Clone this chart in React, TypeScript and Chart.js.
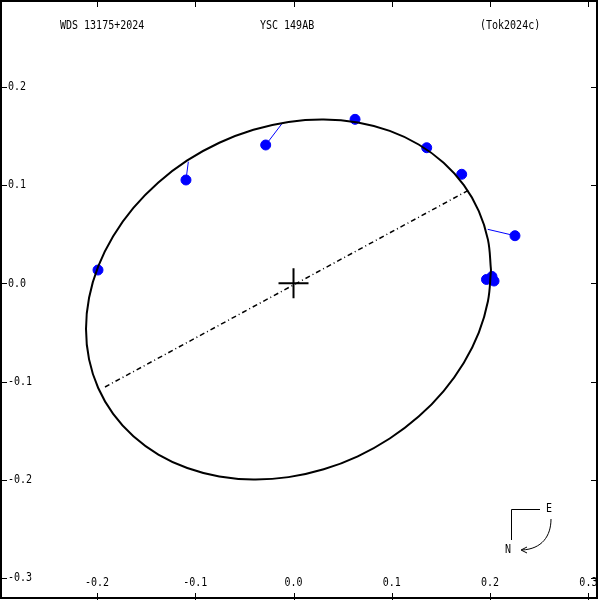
import React, { useEffect, useRef } from "react";
import { Chart, registerables } from "chart.js";

Chart.register(...registerables);

const X_MIN = -0.2986;
const X_MAX = 0.3118;
const Y_MIN = -0.3222;
const Y_MAX = 0.2882;

const xTicks = [-0.2, -0.1, 0.0, 0.1, 0.2, 0.3];
const yTicks = [0.2, 0.1, 0.0, -0.1, -0.2, -0.3];

const titleLeft = "WDS 13175+2024";
const titleCenter = "YSC 149AB";
const titleRight = "(Tok2024c)";

// Apparent orbit
const orbitX = [
  0.2009, 0.1978, 0.1885, 0.1733, 0.1527, 0.1273, 0.0979, 0.0654, 0.0307, -0.0051,
  -0.0408, -0.0755, -0.1081, -0.1375, -0.1629, -0.1835, -0.1987, -0.208, -0.2111, -0.208,
  -0.1987, -0.1835, -0.1629, -0.1375, -0.1081, -0.0755, -0.0408, -0.0051, 0.0307, 0.0654,
  0.0979, 0.1273, 0.1527, 0.1733, 0.1885, 0.1978, 0.2009,
];
const orbitY = [
  0.0135, -0.0183, -0.0501, -0.0808, -0.1096, -0.1356, -0.1579, -0.176, -0.1892, -0.1972,
  -0.1996, -0.1965, -0.1879, -0.1742, -0.1556, -0.1328, -0.1065, -0.0774, -0.0465, -0.0147,
  0.0171, 0.0479, 0.0767, 0.1026, 0.125, 0.143, 0.1562, 0.1642, 0.1667, 0.1636,
  0.155, 0.1412, 0.1226, 0.0998, 0.0735, 0.0444, 0.0135,
];

// Observed positions
const obsX = [-0.1989, -0.1094, -0.0283, 0.0626, 0.1355, 0.1711, 0.2253, 0.1963, 0.2019, 0.204];
const obsY = [0.0135, 0.1051, 0.1407, 0.1668, 0.1379, 0.1109, 0.0484, 0.0039, 0.0069, 0.0023];
// Computed positions on the orbit (ends of the residual lines)
const predX = [-0.1989, -0.107, -0.011, 0.0626, 0.1355, 0.1711, 0.1976, 0.1963, 0.2019, 0.204];
const predY = [0.0135, 0.1237, 0.1634, 0.1668, 0.1379, 0.1109, 0.0549, 0.0039, 0.0069, 0.0023];

// Line of nodes
const nodeX = [-0.1918, 0.1785];
const nodeY = [-0.1055, 0.0949];

const FONT = '10px "DejaVu Sans Mono"';

function drawText(ctx: CanvasRenderingContext2D, text: string, x: number, y: number, align: CanvasTextAlign) {
  ctx.save();
  ctx.textAlign = align;
  ctx.textBaseline = "middle";
  ctx.translate(x, y);
  ctx.scale(1, 1.25);
  ctx.fillText(text, 0, 0);
  ctx.restore();
}

const framePlugin = {
  id: "orbitFrame",
  afterDraw(chart: any) {
    const ctx = chart.ctx as CanvasRenderingContext2D;
    const xs = chart.scales.x;
    const ys = chart.scales.y;
    const W = chart.width;
    const H = chart.height;
    ctx.save();
    ctx.strokeStyle = "#000";
    ctx.fillStyle = "#000";
    ctx.lineWidth = 2;
    ctx.strokeRect(1, 1, W - 4, H - 3);

    ctx.lineWidth = 1;
    ctx.beginPath();
    xTicks.forEach((v) => {
      const p = Math.round(xs.getPixelForValue(v)) + 0.5;
      ctx.moveTo(p, 0);
      ctx.lineTo(p, 7);
      ctx.moveTo(p, H);
      ctx.lineTo(p, H - 7);
    });
    yTicks.forEach((v) => {
      const p = Math.round(ys.getPixelForValue(v)) + 0.5;
      ctx.moveTo(0, p);
      ctx.lineTo(7, p);
      ctx.moveTo(W - 2, p);
      ctx.lineTo(W - 9, p);
    });
    ctx.stroke();

    ctx.font = FONT;
    yTicks.forEach((v) => {
      drawText(ctx, v.toFixed(1), 8, ys.getPixelForValue(v), "left");
    });
    xTicks.forEach((v) => {
      drawText(ctx, v.toFixed(1), xs.getPixelForValue(v), H - 17, "center");
    });

    drawText(ctx, titleLeft, 60, 26, "left");
    drawText(ctx, titleCenter, 260, 26, "left");
    drawText(ctx, titleRight, 480, 26, "left");

    // compass
    ctx.beginPath();
    ctx.moveTo(511.5, 540);
    ctx.lineTo(511.5, 509.5);
    ctx.lineTo(540, 509.5);
    ctx.stroke();
    drawText(ctx, "E", 549, 509, "center");
    drawText(ctx, "N", 508, 550, "center");
    ctx.beginPath();
    ctx.moveTo(551, 519);
    ctx.bezierCurveTo(551, 536, 542, 549, 522, 550);
    ctx.stroke();
    ctx.beginPath();
    ctx.moveTo(527, 547);
    ctx.lineTo(521, 550);
    ctx.lineTo(527, 553);
    ctx.stroke();
    ctx.restore();
  },
};

export default function App() {
  const ref = useRef<HTMLCanvasElement | null>(null);
  useEffect(() => {
    if (!ref.current) return;
    const orbit = orbitX.map((x, i) => ({ x, y: orbitY[i] }));
    const obs = obsX.map((x, i) => ({ x, y: obsY[i] }));
    const residuals = obsX.map((x, i) => ({
      type: "scatter" as const,
      data: [
        { x, y: obsY[i] },
        { x: predX[i], y: predY[i] },
      ],
      showLine: true,
      borderColor: "#0000ff",
      borderWidth: 1,
      pointRadius: 0,
      order: 5,
    }));
    const chart = new Chart(ref.current, {
      type: "scatter",
      data: {
        datasets: [
          {
            data: [{ x: 0, y: 0 }],
            pointStyle: "cross",
            pointRadius: 15,
            borderColor: "#000",
            borderWidth: 2,
            order: 0,
          },
          {
            data: orbit,
            showLine: true,
            borderColor: "#000",
            borderWidth: 2,
            pointRadius: 0,
            tension: 0.4,
            order: 1,
          },
          {
            data: nodeX.map((x, i) => ({ x, y: nodeY[i] })),
            showLine: true,
            borderColor: "#000",
            borderWidth: 1.5,
            borderDash: [5, 3, 1, 3],
            pointRadius: 0,
            order: 2,
          },
          {
            data: obs,
            pointRadius: 5,
            pointStyle: "circle",
            backgroundColor: "#0000ff",
            borderColor: "#0000ff",
            borderWidth: 1,
            order: 3,
          },
          ...residuals,
        ] as any,
      },
      options: {
        animation: false,
        responsive: false,
        maintainAspectRatio: false,
        events: [],
        layout: { padding: 0, autoPadding: false },
        plugins: { legend: { display: false }, tooltip: { enabled: false } },
        scales: {
          x: { type: "linear", min: X_MIN, max: X_MAX, display: false },
          y: { type: "linear", min: Y_MIN, max: Y_MAX, display: false },
        },
      },
      plugins: [framePlugin],
    });
    return () => chart.destroy();
  }, []);
  return (
    <div style={{ position: "fixed", left: 0, top: 0, width: 600, height: 600, background: "#fff" }}>
      <canvas ref={ref} width={600} height={600} style={{ display: "block" }} />
    </div>
  );
}
